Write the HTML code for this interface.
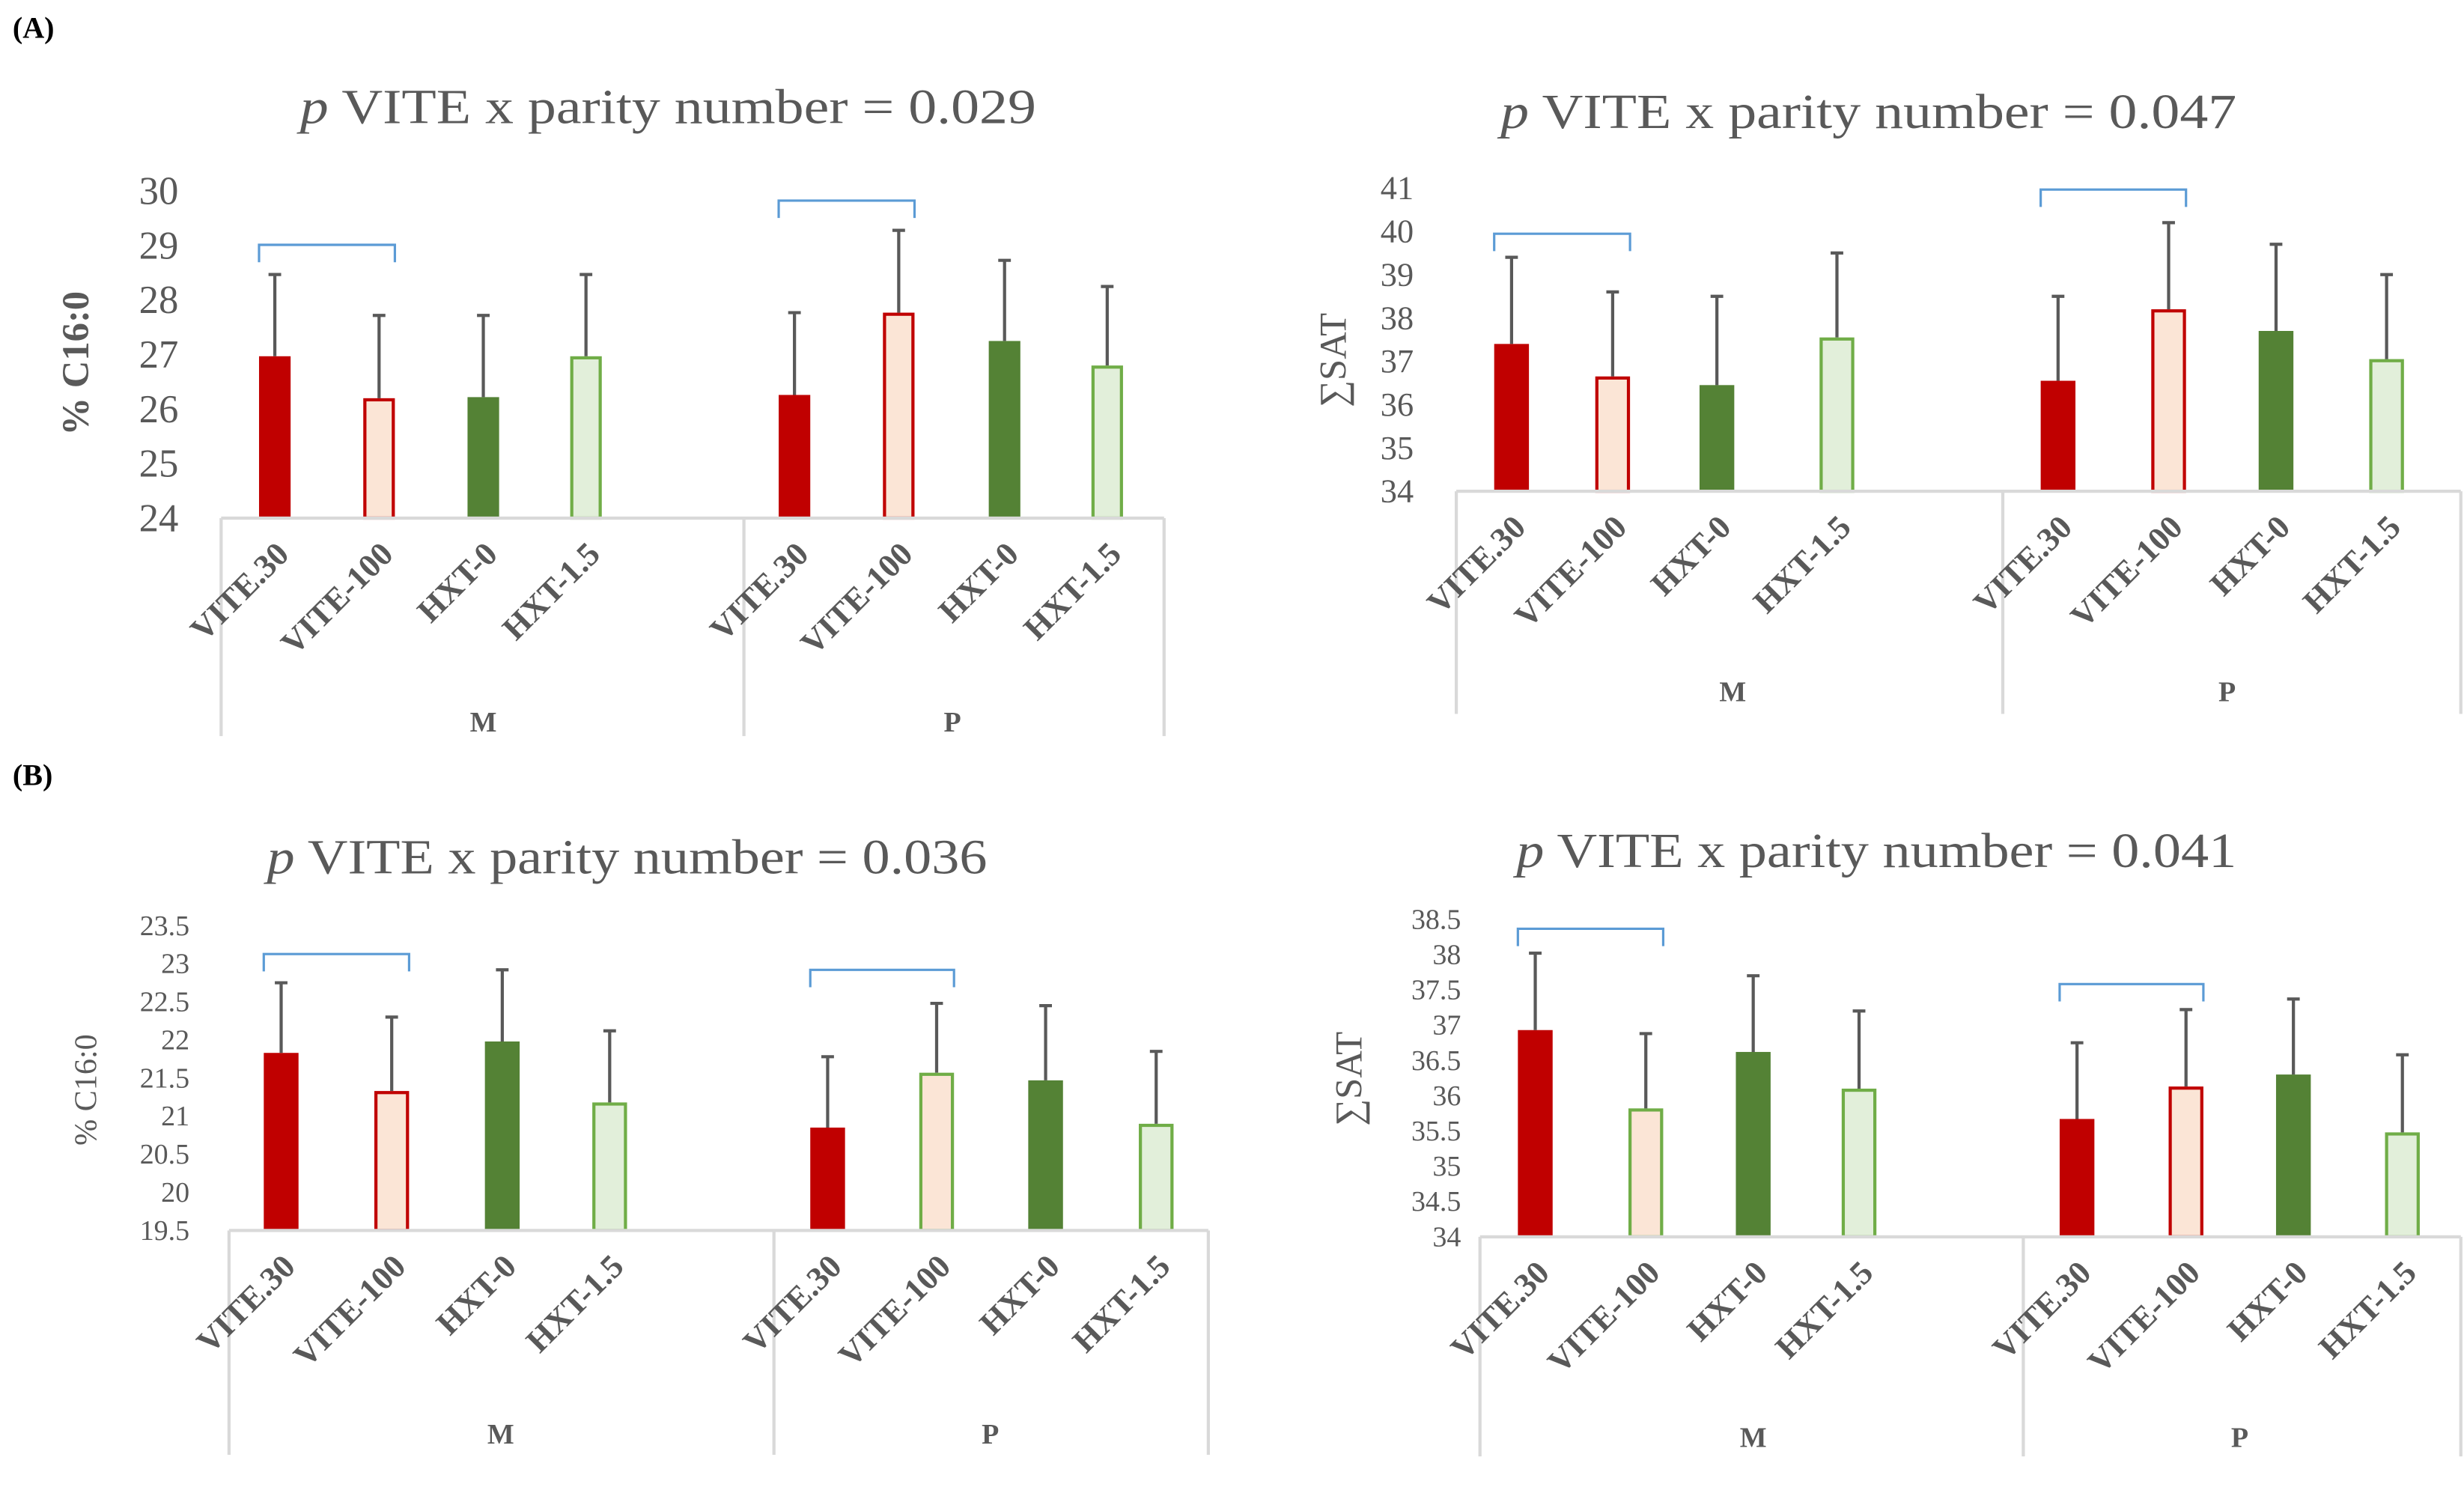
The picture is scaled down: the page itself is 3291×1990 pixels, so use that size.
<!DOCTYPE html>
<html><head><meta charset="utf-8">
<style>
html,body{margin:0;padding:0;background:#fff;}
svg{display:block;font-family:"Liberation Serif",serif;}
</style></head>
<body>
<svg id="fig" width="3291" height="1990" viewBox="0 0 1560 943.3" xmlns="http://www.w3.org/2000/svg">
<text x="8" y="24" font-size="19" font-weight="bold" fill="#000">(A)</text>
<text x="8" y="497" font-size="19" font-weight="bold" fill="#000">(B)</text>
</svg>
<script>
const categories = ["VITE.30","VITE-100","HXT-0","HXT-1.5"];
const groups = ["M","P"];
const titles = ["0.029","0.047","0.036","0.041"];
const yLabels = ["% C16:0","∑SAT","% C16:0","∑SAT"];
const ticksA1 = [24,25,26,27,28,29,30];
const ticksA2 = [34,35,36,37,38,39,40,41];
const ticksB1 = [19.5,20,20.5,21,21.5,22,22.5,23,23.5];
const ticksB2 = [34,34.5,35,35.5,36,36.5,37,37.5,38,38.5];
const valuesA1 = [26.97,26.2,26.22,26.97,26.26,27.77,27.25,26.8];
const errorsA1 = [28.47,27.72,27.72,28.47,27.77,29.28,28.73,28.25];
const valuesA2 = [37.4,36.65,36.45,37.55,36.55,38.2,37.7,37.05];
const errorsA2 = [39.4,38.6,38.5,39.5,38.5,40.2,39.7,39.0];
const valuesB1 = [21.83,21.33,21.98,21.18,20.85,21.57,21.47,20.9];
const errorsB1 = [22.75,22.3,22.92,22.12,21.78,22.48,22.45,21.85];
const valuesB2 = [36.93,35.82,36.62,36.1,35.67,36.13,36.3,35.48];
const errorsB2 = [38.02,36.88,37.7,37.2,36.75,37.22,37.37,36.58];
const brackets = [[0,1],[4,5]];

const NS="http://www.w3.org/2000/svg";
const svg=document.getElementById('fig');
function mk(tag,attrs,parent){const e=document.createElementNS(NS,tag);for(const k in attrs)e.setAttribute(k,attrs[k]);(parent||svg).appendChild(e);return e;}

const styles=[
 {fill:"#c00000",stroke:"#c00000"},
 {fill:"#fbe5d6",stroke:"#c00000"},
 {fill:"#548235",stroke:"#548235"},
 {fill:"#e2efda",stroke:"#70ad47"}
];

function panel(p){
  const g=mk('g',{});
  
  
  const y=v=>p.yBase-(v-p.ticks[0])/(p.ticks[p.ticks.length-1]-p.ticks[0])*(p.yBase-p.yTop);
  const t=mk('text',{x:p.titleX,y:p.titleY,'font-size':p.titleSize,'text-anchor':'middle',fill:'#595959',textLength:p.titleLen,lengthAdjust:'spacingAndGlyphs'},g);
  
  
  const ti=mk('tspan',{'font-style':'italic'},t);ti.textContent='p';
  const tr=mk('tspan',{},t);tr.textContent=' VITE x parity number = '+p.title;
  p.ticks.forEach(v=>{
    const tl=mk('text',{x:p.tickX,y:y(v)+p.tickSize*0.33,'font-size':p.tickSize,'text-anchor':'end',fill:'#595959'},g);
    
    
    tl.textContent=v;
  });
  const yl=mk('text',{x:0,y:0,transform:`translate(${p.ylX},${p.ylY}) rotate(-90)`,'font-size':p.ylSize,'font-weight':p.ylBold?'bold':'normal','text-anchor':'middle',fill:'#595959'},g);
  
  
  yl.textContent=p.ylabel;
  p.values.forEach((v,i)=>{
    const cx=p.centers[i];const ci=i%4;
    let st=styles[ci];
    if(p.overrides&&p.overrides[i])st=p.overrides[i];
    const sw=(ci===1||ci===3)?2:0;
    const r=mk('rect',{x:cx-p.bw/2+sw/2,y:y(v)+sw/2,width:p.bw-sw,height:p.yBase-y(v)-sw/2,fill:st.fill,stroke:st.stroke,'stroke-width':sw},g);
    
    
    const e=mk('path',{d:`M${cx} ${y(v)} V${y(p.errors[i])} M${cx-4} ${y(p.errors[i])} H${cx+4}`,stroke:'#595959','stroke-width':2,fill:'none'},g);
    
    
  });
  brackets.forEach((b,k)=>{
    const x1=p.centers[b[0]]-p.bw/2,x2=p.centers[b[1]]+p.bw/2,by=p.brY[k];
    const br=mk('path',{d:`M${x1} ${by+11} V${by} H${x2} V${by+11}`,stroke:'#5b9bd5','stroke-width':1.5,fill:'none'},g);
    
    
  });
  const ax=mk('path',{d:`M${p.xL} ${p.yBase} H${p.xR} M${p.xL} ${p.yBase} V${p.yBot} M${p.xS} ${p.yBase} V${p.yBot} M${p.xR} ${p.yBase} V${p.yBot}`,stroke:'#d9d9d9','stroke-width':2,fill:'none'},g);
  
  
  p.centers.forEach((cx,i)=>{
    const xl=mk('text',{x:0,y:0,transform:`translate(${cx+10},${p.yBase+24}) rotate(-45)`,'font-size':p.xSize,'font-weight':'bold','text-anchor':'end',fill:'#595959'},g);
    
    
    xl.textContent=categories[i%4];
  });
  groups.forEach((gn,k)=>{
    const gl=mk('text',{x:p.groupX[k],y:p.groupY,'font-size':18,'font-weight':'bold','text-anchor':'middle',fill:'#595959'},g);
    
    
    gl.textContent=gn;
  });
}

const peachGreen={fill:"#fbe5d6",stroke:"#70ad47"};
panel({name:'chart-a-c16',title:titles[0],ylabel:yLabels[0],ticks:ticksA1,values:valuesA1,errors:errorsA1,
  yBase:328,yTop:121,xL:140,xR:737,xS:471,yBot:466,centers:[174,240,306,371,503,569,636,701],bw:20,
  titleX:423,titleY:78,titleSize:31,titleLen:466,tickX:113,tickSize:25,ylX:56,ylY:230,ylSize:24,ylBold:true,
  brY:[155,127],xSize:21,groupX:[306,603],groupY:463});
panel({name:'chart-a-sat',title:titles[1],ylabel:yLabels[1],ticks:ticksA2,values:valuesA2,errors:errorsA2,
  yBase:311,yTop:119,xL:922,xR:1558,xS:1268,yBot:452,centers:[957,1021,1087,1163,1303,1373,1441,1511],bw:22,
  titleX:1183,titleY:81,titleSize:31,titleLen:466,tickX:895,tickSize:21,ylX:852,ylY:228,ylSize:24,ylBold:false,
  brY:[148,120],xSize:21,groupX:[1097,1410],groupY:444});
panel({name:'chart-b-c16',title:titles[2],ylabel:yLabels[2],ticks:ticksB1,values:valuesB1,errors:errorsB1,
  yBase:779,yTop:586,xL:145,xR:765,xS:490,yBot:921,centers:[178,248,318,386,524,593,662,732],bw:22,
  titleX:397,titleY:553,titleSize:31,titleLen:456,tickX:120,tickSize:18,ylX:61,ylY:690,ylSize:20,ylBold:false,
  brY:[604,614],xSize:21,groupX:[317,627],groupY:914,overrides:{5:peachGreen}});
panel({name:'chart-b-sat',title:titles[3],ylabel:yLabels[3],ticks:ticksB2,values:valuesB2,errors:errorsB2,
  yBase:783,yTop:582,xL:937,xR:1558,xS:1281,yBot:922,centers:[972,1042,1110,1177,1315,1384,1452,1521],bw:22,
  titleX:1188,titleY:549,titleSize:31,titleLen:456,tickX:925,tickSize:18,ylX:862,ylY:683,ylSize:24,ylBold:false,
  brY:[588,623],xSize:21,groupX:[1110,1418],groupY:916,overrides:{1:peachGreen}});
</script>
</body></html>
